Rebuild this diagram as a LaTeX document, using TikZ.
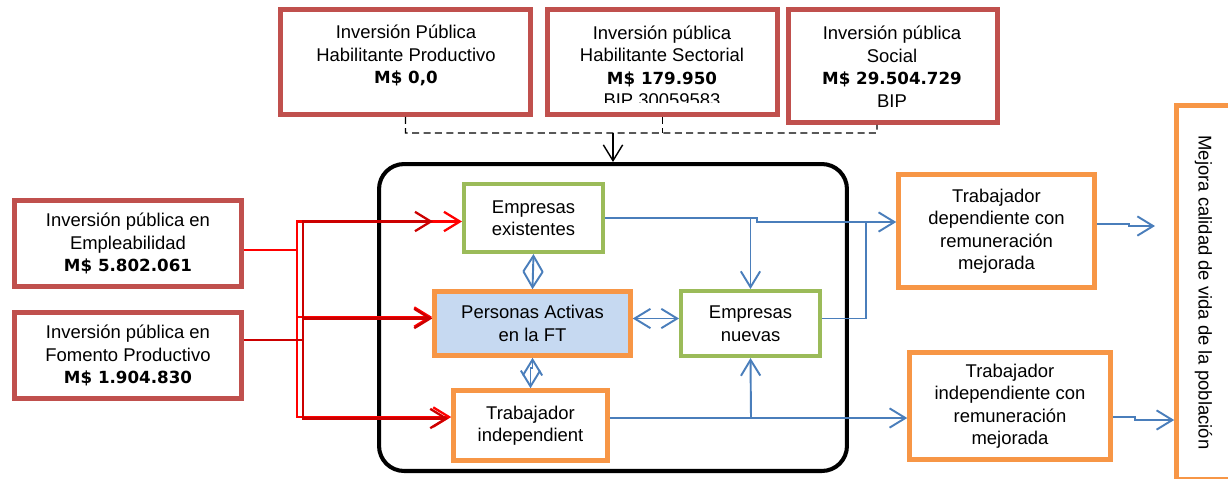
\documentclass[tikz,border=0pt]{standalone}
\usepackage{fontspec}
\setmainfont{Liberation Sans}
\newfontfamily\montofont{DejaVu Sans}
\usetikzlibrary{arrows.meta}

\definecolor{rojo}{HTML}{C0504D}
\definecolor{verde}{HTML}{9BBB59}
\definecolor{naranja}{HTML}{F79646}
\definecolor{celeste}{HTML}{C6D9F1}
\definecolor{azul}{HTML}{4A7EBB}
\definecolor{rojovivo}{HTML}{FF0000}
\definecolor{rojoosc}{HTML}{CC0000}

\newcommand{\monto}[1]{{\montofont\bfseries\fontsize{9.5}{12.8}\selectfont #1}}

\tikzset{
  texto/.style={align=center, inner sep=0pt, font=\fontsize{10.5}{12.8}\selectfont},
  caja/.style={texto, draw},
  cajaroja/.style={caja, draw=rojo, line width=2.6pt},
  cajaverde/.style={caja, draw=verde, line width=2.3pt, fill=white},
  cajanaranja/.style={caja, draw=naranja, line width=2.6pt, fill=white},
  linroja/.style={->, rojovivo, line width=1.3pt},
  linrojaosc/.style={->, rojoosc, line width=1.3pt},
  linazul/.style={->, azul, line width=1.1pt},
  dobleazul/.style={<->, azul, line width=1.1pt},
  guion/.style={dash pattern=on 4pt off 2.5pt, line width=0.8pt}
}

\begin{document}
\begin{tikzpicture}[x=0.02cm, y=-0.02cm, >={Straight Barb[length=9pt,width=11pt]}]
\useasboundingbox (0,0) rectangle (1228,478);

\coordinate (dj) at (613,133);
\coordinate (dc) at (877,133);
\coordinate (re) at (297,250);
\coordinate (rf) at (303,340);
\coordinate (be) at (757,222);
\coordinate (bn) at (866,222);
\coordinate (bi) at (751,418);
\coordinate (md) at (1155,226);
\coordinate (mi) at (1160,420);

\node (hprod) [cajaroja, minimum width=5.0cm, minimum height=2.1cm] at (405.5,62) {};
\node (hsect) [cajaroja, minimum width=4.6cm, minimum height=2.1cm] at (662.5,62) {};
\node (hsoc) [cajaroja, minimum width=4.18cm, minimum height=2.26cm] at (893,66) {};
\node (tprod) [texto] at (406,55.5) {Inversión Pública\\Habilitante Productivo\\\monto{M\$ 0,0}};
\begin{scope}
  \clip (545,7) rectangle (780,102);
  \node (tsect) [texto] at (662,66.5) {Inversión pública\\Habilitante Sectorial\\\monto{M\$ 179.950}\\BIP 30059583};
\end{scope}
\node (tsoc) [texto] at (892,66.5) {Inversión pública\\Social\\\monto{M\$ 29.504.729}\\BIP};

\draw[guion] (hprod.south) |- (dc) -- ([xshift=-0.32cm]hsoc.south);
\draw[guion] (hsect.south) -- (hsect.south |- dj);

\node (empl) [cajaroja, minimum width=4.54cm, minimum height=1.72cm] at (128,243.5) {Inversión pública en\\Empleabilidad\\\monto{M\$ 5.802.061}};
\node (fom) [cajaroja, minimum width=4.54cm, minimum height=1.72cm] at (128,355.5) {Inversión pública en\\Fomento Productivo\\\monto{M\$ 1.904.830}};

\node (zona) [draw, line width=2.3pt, rounded corners=0.5cm, minimum width=9.36cm, minimum height=6.14cm] at (613,317.5) {};
\draw[->, line width=0.8pt] (dj) -- (zona.north);

\node (exist) [cajaverde, minimum width=2.78cm, minimum height=1.36cm] at (533.5,218) {Empresas\\existentes};
\node (pers) [cajanaranja, fill=celeste, minimum width=3.92cm, minimum height=1.28cm] at (532.5,323.5) {Personas Activas\\en la FT};
\node (nuevas) [cajaverde, minimum width=2.78cm, minimum height=1.30cm] at (750.5,323.5) {Empresas\\nuevas};
\node (tind) [cajanaranja, minimum width=3.08cm, minimum height=1.40cm] at (530.5,425.5) {Trabajador\\independient};
\node (tdep) [cajanaranja, minimum width=3.92cm, minimum height=2.26cm] at (996.5,231) {Trabajador\\dependiente con\\remuneración\\mejorada};
\node (trem) [cajanaranja, minimum width=4.02cm, minimum height=2.14cm] at (1010,406) {Trabajador\\independiente con\\remuneración\\mejorada};
\node (mejora) [cajanaranja, minimum width=1.08cm, minimum height=7.48cm] at (1203.5,292.5) {};
\node (tmejora) [texto, rotate=-90] at (mejora.center) {Mejora calidad de vida de la población};

\draw[linroja] (empl.east |- re) -- (re) |- ([yshift=-0.07cm]exist.west);
\draw[linroja] (re) |- ([yshift=0.13cm]pers.west);
\draw[linroja] (re) |- ([yshift=0.17cm]tind.west);
\draw[linrojaosc, shorten >=0.58cm] (fom.east |- rf) -- (rf) |- ([yshift=-0.07cm]exist.west);
\draw[linrojaosc] (rf) |- ([yshift=0.1cm]pers.west);
\draw[linrojaosc, shorten >=0.06cm] (rf) |- ([yshift=0.14cm]tind.west);

\draw[linazul] (exist.east) -- (exist.east -| be) -- (be) -- (tdep.west |- be);
\draw[linazul] (nuevas.north |- exist.east) -- (nuevas.north);
\draw[azul, line width=1.1pt] ([yshift=0.1cm]nuevas.east) -| (bn);
\draw[linazul] (tind.east |- bi) -- (trem.west |- bi);
\draw[linazul] (bi) -- (nuevas.south);
\draw[dobleazul] (exist.south) -- (pers.north);
\draw[dobleazul] ([yshift=0.1cm]pers.east) -- ([yshift=0.1cm]nuevas.west);
\draw[dobleazul] (pers.south) -- ++(0,10) -| (tind.north);
\draw[linazul] ([yshift=0.14cm]tdep.east) -- ++(32,0) |- (md);
\draw[linazul] ([yshift=-0.22cm]trem.east) -- ++(22,0) |- (mejora.west |- mi);
\end{tikzpicture}
\end{document}
